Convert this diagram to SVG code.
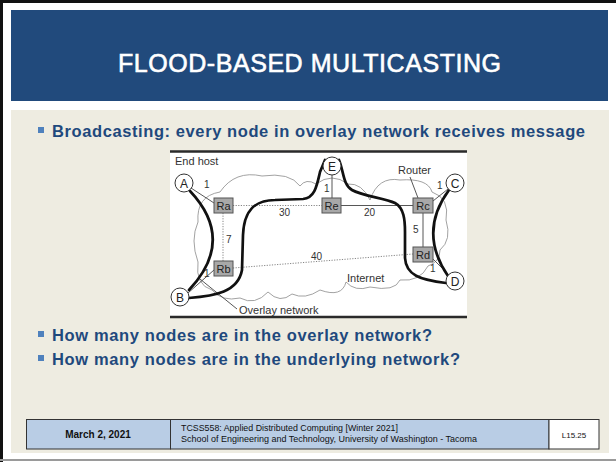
<svg xmlns="http://www.w3.org/2000/svg" width="616" height="462" viewBox="0 0 616 462">
  <style>
    .title { font-family: "Liberation Sans", Arial, sans-serif; font-size: 25px; fill: #ffffff; stroke: #ffffff; stroke-width: 0.6; }
    .bullet-text { font-family: "Liberation Sans", Arial, sans-serif; font-size: 16.5px; font-weight: bold; fill: #1f497d; }
    .bullet { fill: #4f81bd; }
    .dlabel { font-family: "Liberation Sans", Arial, sans-serif; font-size: 11px; fill: #333333; }
    .weight { font-family: "Liberation Sans", Arial, sans-serif; font-size: 10px; fill: #333333; }
    .host circle { fill: #ffffff; stroke: #333333; stroke-width: 1; }
    .host text { font-family: "Liberation Sans", Arial, sans-serif; font-size: 12px; fill: #222222; text-anchor: middle; }
    .router text { font-family: "Liberation Sans", Arial, sans-serif; font-size: 11px; fill: #222222; text-anchor: middle; }
    .router rect { fill: #a8a8a8; stroke: #555555; stroke-width: 1; }
    .thin { stroke: #444444; stroke-width: 0.9; fill: none; }
    .dotted { stroke: #777777; stroke-width: 0.9; stroke-dasharray: 1.2 1.4; fill: none; }
    .thick { stroke: #111111; stroke-width: 2.7; fill: none; stroke-linecap: round; }
    .cloud { stroke: #8a8a8a; stroke-width: 0.8; fill: none; }
    .foot { font-family: "Liberation Sans", Arial, sans-serif; fill: #111111; }
    .cell { fill: #b9cde5; stroke: #333333; stroke-width: 1; }
  </style>

  <!-- page frame -->
  <rect x="0" y="0" width="616" height="462" fill="#ffffff"/>
  <rect x="0" y="0" width="3" height="462" fill="#111111"/>
  <rect x="0" y="0" width="616" height="3" fill="#111111"/>
  <line x1="0" y1="460" x2="616" y2="460" stroke="#9a9a9a" stroke-width="2"/>

  <!-- title bar -->
  <rect x="11" y="10" width="597" height="91" fill="#214a7c"/>
  <text class="title" x="309.5" y="72" text-anchor="middle" textLength="383" lengthAdjust="spacing">FLOOD-BASED MULTICASTING</text>

  <!-- content area -->
  <rect x="11" y="110" width="598" height="343" fill="#eeece1"/>

  <rect class="bullet" x="38" y="127" width="6" height="6"/>
  <text class="bullet-text" x="52" y="137" textLength="533" lengthAdjust="spacing">Broadcasting: every node in overlay network receives message</text>

  <!-- network figure -->
  <g id="figure">
    <rect x="170" y="151" width="297" height="166" fill="#ffffff"/>
    <line x1="170" y1="151.5" x2="467" y2="151.5" stroke="#2a2a2a" stroke-width="2.5"/>
    <line x1="170" y1="317" x2="467" y2="317" stroke="#2a2a2a" stroke-width="2.5"/>

    <!-- internet cloud -->
    <path class="cloud" d="M 198,222 Q 196,196 220,192 Q 235,170 262,176 Q 290,172 300,186 Q 306,178 316,184 Q 332,172 348,184 Q 362,183 370,200 Q 378,176 400,180 Q 428,178 432,192 Q 450,198 446,220 Q 452,240 440,250 Q 440,262 428,266 Q 420,282 400,280 Q 395,292 370,287 Q 355,292 346,282 Q 342,298 320,290 Q 305,300 292,294 Q 280,304 268,292 Q 255,306 240,298 Q 222,302 212,290 Q 195,285 198,262 Q 190,240 198,222 Z"/>

    <g id="connectors">
      <!-- access links -->
      <line class="thin" x1="191" y1="188" x2="214" y2="203"/>
      <line class="thin" x1="188" y1="293" x2="214" y2="270"/>
      <line class="thin" x1="332" y1="175" x2="332" y2="198"/>
      <line class="thin" x1="448" y1="189" x2="433" y2="201"/>
      <line class="thin" x1="449" y1="275" x2="433" y2="259"/>
      <!-- router links -->
      <line class="thin" x1="341" y1="205.5" x2="413" y2="205.5"/>
      <line class="thin" x1="423" y1="213" x2="423" y2="247"/>
      <line class="dotted" x1="233" y1="205.5" x2="322" y2="205.5"/>
      <line class="dotted" x1="223" y1="213" x2="223" y2="261"/>
      <line class="dotted" x1="233" y1="268" x2="413" y2="254"/>
      <!-- callout leaders -->
      <line class="thin" x1="410" y1="177" x2="418" y2="198"/>
      <line class="thin" x1="237" y1="309" x2="200" y2="279"/>
      <!-- overlay links -->
      <path class="thick" d="M 190,191 Q 236,240 189,290"/>
      <path class="thick" d="M 189,298 C 215,296 238,292 242,270 L 243,235 C 244,210 255,200 275,200 L 303,199 C 315,198 317,185 320,172 L 325,160"/>
      <path class="thick" d="M 339,160 C 344,172 343,185 352,190 C 362,196 385,198 395,203 C 404,208 405,220 405,232 L 405,258 C 406,275 420,280 446,283"/>
      <path class="thick" d="M 449,190 Q 418,232 448,276"/>
    </g>

    <!-- link weights -->
    <text class="weight" x="204" y="188">1</text>
    <text class="weight" x="279" y="216">30</text>
    <text class="weight" x="364" y="216">20</text>
    <text class="weight" x="324" y="192">1</text>
    <text class="weight" x="226" y="243">7</text>
    <text class="weight" x="413" y="233">5</text>
    <text class="weight" x="311" y="260">40</text>
    <text class="weight" x="204" y="277">1</text>
    <text class="weight" x="437" y="189">1</text>
    <text class="weight" x="430" y="272">1</text>

    <!-- captions -->
    <text class="dlabel" x="175" y="165">End host</text>
    <text class="dlabel" x="398" y="174">Router</text>
    <text class="dlabel" x="347" y="282">Internet</text>
    <text class="dlabel" x="239" y="314">Overlay network</text>

    <!-- routers -->
    <g id="Ra" class="router"><rect x="214" y="198" width="19" height="15"/><text x="223.5" y="209.5">Ra</text></g>
    <g id="Re" class="router"><rect x="322" y="198" width="19" height="15"/><text x="331.5" y="209.5">Re</text></g>
    <g id="Rc" class="router"><rect x="413" y="198" width="20" height="15"/><text x="423" y="209.5">Rc</text></g>
    <g id="Rb" class="router"><rect x="214" y="261" width="19" height="15"/><text x="223.5" y="272.5">Rb</text></g>
    <g id="Rd" class="router"><rect x="413" y="247" width="20" height="15"/><text x="423" y="258.5">Rd</text></g>

    <!-- end hosts -->
    <g id="A" class="host"><circle cx="184" cy="183" r="9"/><text x="184" y="187.5">A</text></g>
    <g id="B" class="host"><circle cx="180" cy="297" r="9"/><text x="180" y="301.5">B</text></g>
    <g id="E" class="host"><circle cx="332" cy="166" r="9"/><text x="332" y="170.5">E</text></g>
    <g id="C" class="host"><circle cx="455" cy="183" r="9"/><text x="455" y="187.5">C</text></g>
    <g id="D" class="host"><circle cx="455" cy="281" r="9"/><text x="455" y="285.5">D</text></g>
  </g>

  <rect class="bullet" x="38" y="331" width="6" height="6"/>
  <text class="bullet-text" x="52" y="341" textLength="380" lengthAdjust="spacing">How many nodes are in the overlay network?</text>
  <rect class="bullet" x="38" y="355" width="6" height="6"/>
  <text class="bullet-text" x="52" y="365" textLength="408" lengthAdjust="spacing">How many nodes are in the underlying network?</text>

  <!-- footer -->
  <g id="footer">
    <rect class="cell" x="26.5" y="419.5" width="144" height="29.5"/>
    <rect class="cell" x="170.5" y="419.5" width="378.5" height="29.5"/>
    <rect x="549" y="419.5" width="50" height="29.5" fill="#ffffff" stroke="#333333" stroke-width="1"/>
    <text class="foot" x="98" y="438" font-size="10" font-weight="bold" text-anchor="middle">March 2, 2021</text>
    <text class="foot" x="181" y="431" font-size="9" textLength="217" lengthAdjust="spacingAndGlyphs">TCSS558: Applied Distributed Computing [Winter 2021]</text>
    <text class="foot" x="181" y="441.5" font-size="9" textLength="296" lengthAdjust="spacingAndGlyphs">School of Engineering and Technology, University of Washington - Tacoma</text>
    <text class="foot" x="574" y="437.5" font-size="8" text-anchor="middle">L15.25</text>
  </g>
</svg>
